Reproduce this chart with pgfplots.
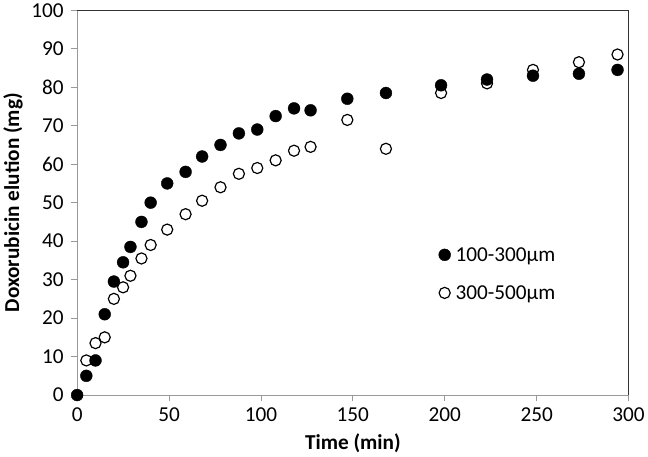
\documentclass[border=0pt]{standalone}
\usepackage{fontspec}
\setmainfont{Carlito}
\usepackage{pgfplots}
\pgfplotsset{compat=1.18}
\begin{document}
\begin{tikzpicture}
\begin{axis}[
  scale only axis, width=556bp, height=388bp,
  xmin=0, xmax=300, ymin=0, ymax=100,
  xtick={0,50,...,300}, ytick={0,10,...,100},
  axis line style={draw=none},
  tick align=outside, tick pos=left,
  major tick length=6bp,
  every tick/.style={draw=gray!80, line width=0.8pt},
  /pgf/number format/assume math mode=true,
  tick label style={font=\fontsize{21.5}{24}\selectfont},
  xticklabel style={yshift=-3bp},
  yticklabel style={xshift=-4bp},
  xlabel={\textbf{Time (min)}},
  ylabel={\textbf{Doxorubicin elution (mg)}},
  xlabel style={yshift=-6bp},
  ylabel style={yshift=2bp},
  label style={font=\fontsize{21.5}{24}\selectfont},
  clip=false,
  legend style={draw=none, fill=none, at={(axis cs:195,39.5)}, anchor=north west,
    font=\fontsize{21.5}{24}\selectfont, row sep=19bp, column sep=3bp, nodes={inner sep=2pt}},
  legend cell align=left,
]
\draw[gray!80, line width=1pt] (rel axis cs:0,1) -- (rel axis cs:0,0) -- (rel axis cs:1,0);
\draw[black!80, line width=1.3pt] (rel axis cs:0,1) -- (rel axis cs:1,1) -- (rel axis cs:1,0);
\addplot[only marks, mark=*, mark size=6bp, draw=black, fill=black] coordinates {
(0,0) (5,5) (10,9) (15,21) (20,29.5) (25,34.5) (29,38.5) (35,45) (40,50) (49,55)
(59,58) (68,62) (78,65) (88,68) (98,69) (108,72.5) (118,74.5) (127,74)
(147,77) (168,78.5) (198,80.5) (223,82) (248,83) (273,83.5) (294,84.5)};
\addlegendentry{100-300µm}
\addplot[only marks, mark=o, mark size=5.6bp, draw=black, line width=1.2pt] coordinates {
(5,9) (10,13.5) (15,15) (20,25) (25,28) (29,31) (35,35.5) (40,39) (49,43)
(59,47) (68,50.5) (78,54) (88,57.5) (98,59) (108,61) (118,63.5) (127,64.5)
(147,71.5) (168,64) (198,78.5) (223,81) (248,84.5) (273,86.5) (294,88.5)};
\addlegendentry{300-500µm}
\end{axis}
\end{tikzpicture}
\end{document}
